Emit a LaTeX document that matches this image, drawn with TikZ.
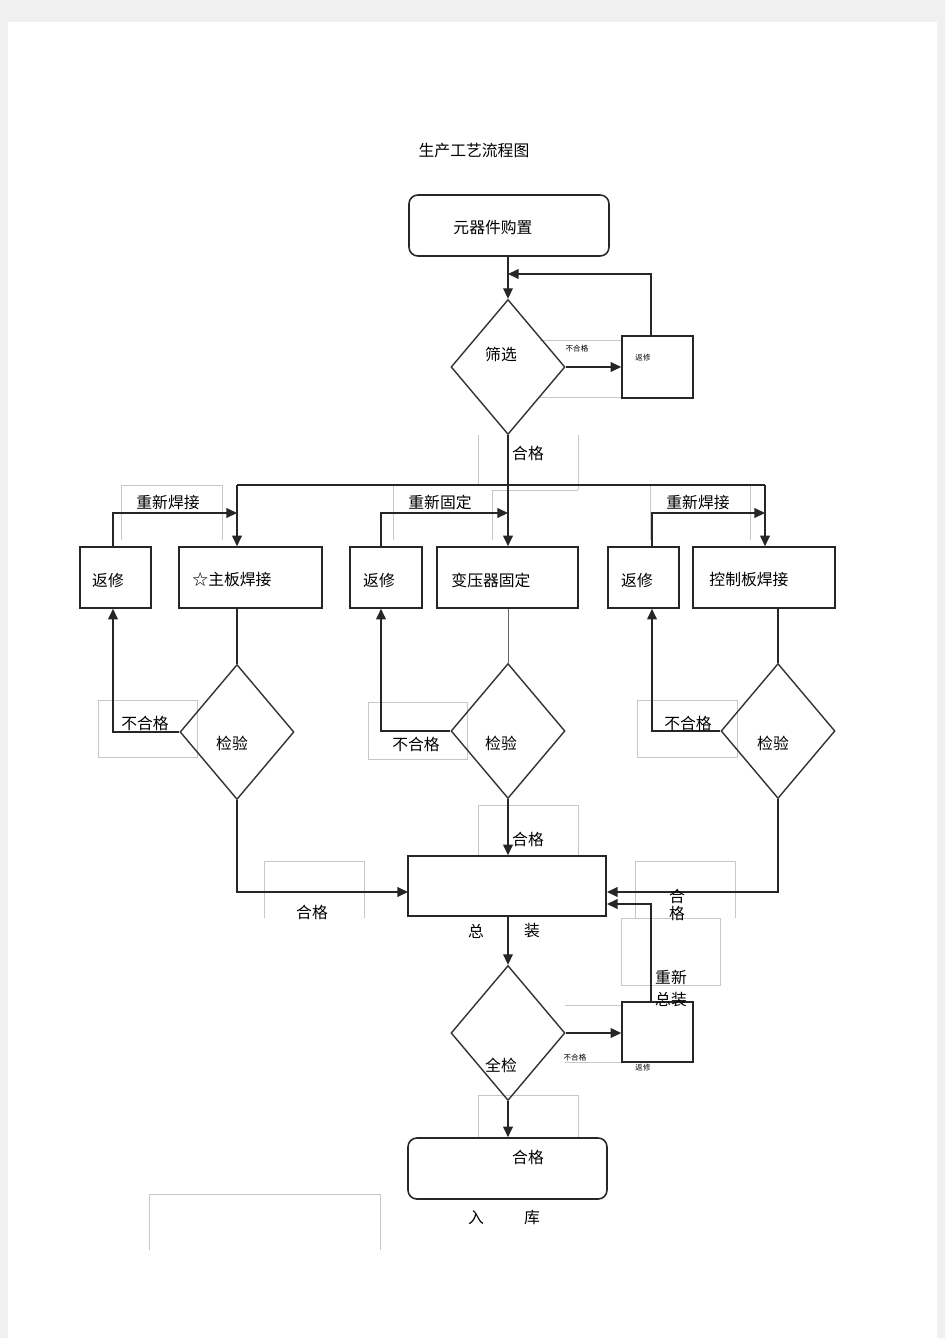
\documentclass[tikz,border=0pt]{standalone}
\usepackage{fontspec}
\setmainfont{Noto Sans CJK SC}
\usetikzlibrary{shapes.geometric,arrows.meta}

\tikzset{
  box/.style={draw=black!85, line width=0.9pt, inner sep=0pt},
  rbox/.style={box, rounded corners=5pt},
  chk/.style={draw=black!80, line width=0.8pt, diamond, inner sep=0pt,
    minimum width=2.28cm, minimum height=2.7cm},
  line/.style={draw=black!85, line width=0.8pt},
  arr/.style={line, -{Triangle[length=6pt,width=5.5pt]}},
  ghost/.style={draw=black!22, line width=0.4pt},
  tiny/.style={font=\fontsize{4.3}{5}\selectfont}
}

\begin{document}
\begin{tikzpicture}[x=0.02cm, y=-0.02cm, font=\fontsize{9}{11}\selectfont]
  \useasboundingbox (0,0) rectangle (945,1338);
  % page
  \fill[black!6] (0,0) rectangle (945,1338);
  \fill[white] (8,22) rectangle (937,1338);

  % leftover text frames (light grey)
  \draw[ghost] (540,340) -- (622,340) (540,397) -- (622,397);
  \draw[ghost] (478,435) -- (478,485) (578,435) -- (578,490);
  \draw[ghost] (492,540) -- (492,490) -- (578,490);
  \draw[ghost] (121,540) -- (121,485) -- (222,485) -- (222,540);
  \draw[ghost] (393,540) -- (393,485);
  \draw[ghost] (650,540) -- (650,485) (750,540) -- (750,485);
  \draw[ghost] (98,700) rectangle (197,757);
  \draw[ghost] (368,702) rectangle (467,759);
  \draw[ghost] (637,700) rectangle (737,757);
  \draw[ghost] (478,856) -- (478,805) -- (578,805) -- (578,856);
  \draw[ghost] (264,918) -- (264,861) -- (364,861) -- (364,918);
  \draw[ghost] (635,918) -- (635,861) -- (735,861) -- (735,918);
  \draw[ghost] (621,918) rectangle (720,985);
  \draw[ghost] (565,1005) -- (622,1005) (565,1062) -- (622,1062);
  \draw[ghost] (478,1138) -- (478,1095) -- (578,1095) -- (578,1138);
  \draw[ghost] (149,1250) -- (149,1194) -- (380,1194) -- (380,1250);

  % shapes
  \node[rbox, minimum width=4cm, minimum height=1.22cm] (buy) at (509,225.5) {};
  \node[chk] (sx) at (508,367) {};
  \node[box, minimum width=1.42cm, minimum height=1.24cm] (fx1) at (657.5,367) {};

  \node[box, minimum width=1.42cm, minimum height=1.22cm] (rw1) at (115.5,577.5) {};
  \node[box, minimum width=2.86cm, minimum height=1.22cm] (mb) at (250.5,577.5) {};
  \node[box, minimum width=1.44cm, minimum height=1.22cm] (rw2) at (386,577.5) {};
  \node[box, minimum width=2.82cm, minimum height=1.22cm] (tf) at (507.5,577.5) {};
  \node[box, minimum width=1.42cm, minimum height=1.22cm] (rw3) at (643.5,577.5) {};
  \node[box, minimum width=2.84cm, minimum height=1.22cm] (cb) at (764,577.5) {};

  \node[chk] (k1) at (237,732) {};
  \node[chk] (k2) at (508,731) {};
  \node[chk] (k3) at (778,731) {};

  \node[box, minimum width=3.96cm, minimum height=1.2cm] (zz) at (507,886) {};
  \node[chk] (qj) at (508,1033) {};
  \node[box, minimum width=1.42cm, minimum height=1.2cm] (fx2) at (657.5,1032) {};
  \node[rbox, minimum width=3.98cm, minimum height=1.22cm] (rk) at (507.5,1168.5) {};

  % turning points
  \coordinate (r1) at (651,274);
  \coordinate (bus) at (508,485);
  \coordinate (busL) at (237,485);
  \coordinate (busR) at (765,485);
  \coordinate (u1) at (113,513);
  \coordinate (u2) at (381,513);
  \coordinate (u3) at (652,513);
  \coordinate (inL) at (408,892);
  \coordinate (inR) at (607,892);
  \coordinate (inR2) at (607,904);
  \coordinate (r2) at (651,904);

  % screening
  \draw[arr] (sx.north |- buy.south) -- (sx.north);
  \draw[arr] (sx.east) -- (fx1.west);
  \draw[arr] (r1 |- fx1.north) -- (r1) -- (sx.north |- r1);
  \draw[line] (sx.south) -- (bus);
  \draw[line] (busL) -- (busR);

  % three branches
  \foreach \b/\t in {busL/mb, bus/tf, busR/cb}
    \draw[arr] (\b) -- (\b |- \t.north);
  \foreach \u/\r/\b in {u1/rw1/busL, u2/rw2/bus, u3/rw3/busR}
    \draw[arr] (\u |- \r.north) -- (\u) -- (\b |- \u);
  \draw[line] (k1.north |- mb.south) -- (k1.north);
  \draw[draw=black!60, line width=0.5pt] (k2.north |- tf.south) -- (k2.north);
  \draw[line] (k3.north |- cb.south) -- (k3.north);
  \foreach \k/\u/\r in {k1/u1/rw1, k2/u2/rw2, k3/u3/rw3}
    \draw[arr] (\k.west) -| (\u |- \r.south);

  % assembly
  \draw[arr] (k1.south) |- (inL);
  \draw[arr] (k2.south) -- (k2.south |- zz.north);
  \draw[arr] (k3.south) |- (inR);
  \draw[arr] (qj.north |- zz.south) -- (qj.north);
  \draw[arr] (qj.east) -- (qj.east -| fx2.west);
  \draw[arr] (r2 |- fx2.north) -- (r2) -- (inR2);
  \draw[arr] (qj.south) -- (qj.south |- rk.north);

  % texts
  \node at (474,151) {生产工艺流程图};
  \node at (493,227) {元器件购置};
  \node at (501,354) {筛选};
  \node[tiny] at (577,349) {不合格};
  \node[tiny] at (643,358) {返修};
  \node at (528,453) {合格};
  \node at (168,502) {重新焊接};
  \node at (440,502) {重新固定};
  \node at (698,502) {重新焊接};
  \foreach \x in {108,379,637}
    \node at (\x,580) {返修};
  \node at (232,580) {☆主板焊接};
  \node at (491,580) {变压器固定};
  \node at (749,580) {控制板焊接};
  \node at (232,743) {检验};
  \node at (501,743) {检验};
  \node at (773,743) {检验};
  \node at (145,723) {不合格};
  \node at (416,744) {不合格};
  \node at (688,723) {不合格};
  \node at (528,839) {合格};
  \node at (312,912) {合格};
  \node at (677,896) {合};
  \node at (677,913) {格};
  \node at (476,931) {总};
  \node at (532,931) {装};
  \node at (671,977) {重新};
  \node at (671,1000) {总装};
  \node at (501,1065) {全检};
  \node[tiny] at (575,1058) {不合格};
  \node[tiny] at (643,1068) {返修};
  \node at (528,1157) {合格};
  \node at (476,1218) {入};
  \node at (532,1218) {库};
\end{tikzpicture}
\end{document}
